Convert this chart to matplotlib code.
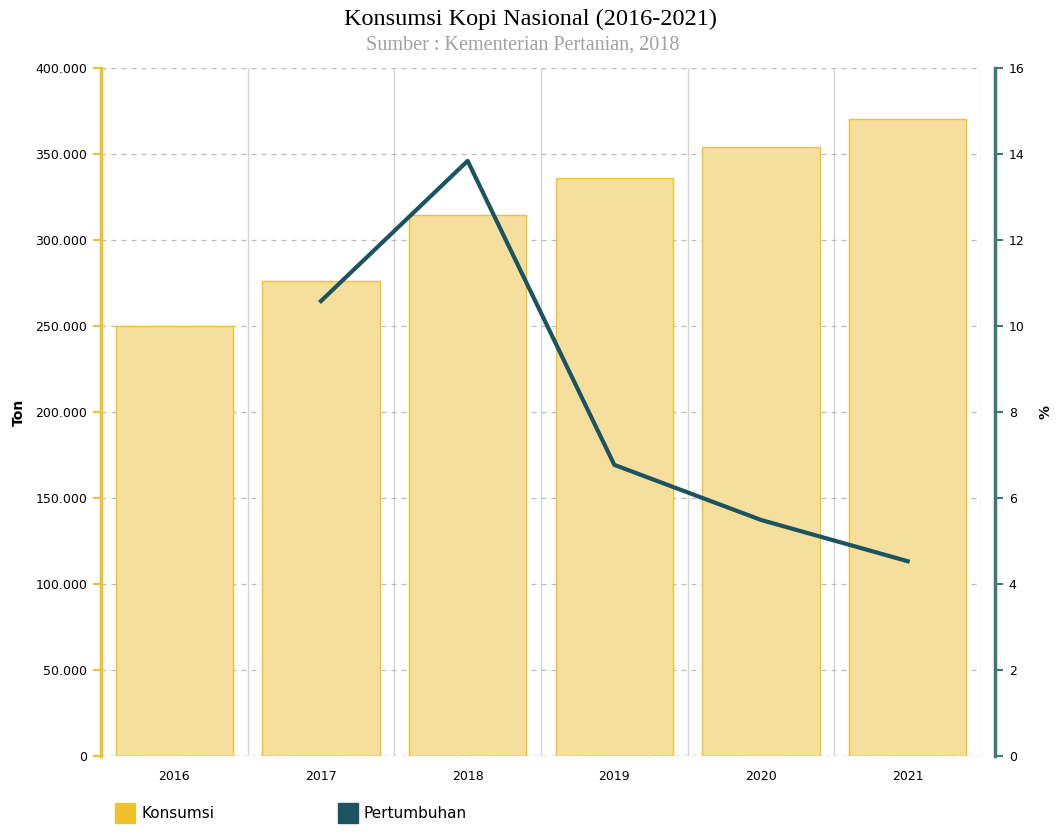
import numpy as np
import matplotlib.pyplot as plt
from matplotlib.patches import Patch
from matplotlib.ticker import FuncFormatter

# data
tahun = ['2016', '2017', '2018', '2019', '2020', '2021']
konsumsi = [250000, 276200, 314500, 336000, 354100, 370300]
pertumbuhan = [np.nan, 10.58, 13.84, 6.77, 5.49, 4.53]

warna_bar = '#F6DF9C'
warna_tepi = '#F0C12E'
warna_garis = '#1B5460'
warna_sumbu2 = '#3F7780'

fig = plt.figure(figsize=(10.56, 8.33), dpi=100)
ax = fig.add_axes([0.0956, 0.0924, 0.8334, 0.8260])
x = np.arange(len(tahun))

ax.bar(x, konsumsi, width=0.8, color=warna_bar, edgecolor=warna_tepi, linewidth=1, zorder=2)
ax.set_xlim(-0.5, len(tahun) - 0.5)
ax.set_ylim(0, 400000)
ax.set_yticks(np.arange(0, 400001, 50000))
ax.yaxis.set_major_formatter(FuncFormatter(lambda v, p: f'{int(v):,}'.replace(',', '.')))
ax.set_xticks(x)
ax.set_xticklabels(tahun)
ax.set_xticks(np.arange(-0.5, len(tahun)), minor=True)
ax.grid(axis='y', linestyle=(0, (4, 4)), color='#BBBBBB', linewidth=0.9, zorder=0)
ax.grid(axis='x', which='minor', color='#D5D5D5', linewidth=1, zorder=0)
ax.tick_params(axis='x', which='both', length=0, labelsize=9, pad=10)
ax.tick_params(axis='y', length=6, color=warna_tepi, width=1.5, labelsize=9, pad=4)

for s in ['top', 'right']:
    ax.spines[s].set_visible(False)
ax.spines['bottom'].set_visible(False)
ax.axhline(0, color='#999999', linestyle=(0, (3, 3)), linewidth=1, zorder=3)
ax.spines['left'].set_color(warna_tepi)
ax.spines['left'].set_linewidth(2.5)

ax2 = ax.twinx()
ax2.plot(x, pertumbuhan, color=warna_garis, linewidth=3, zorder=4)
ax2.set_ylim(0, 16)
ax2.set_yticks(np.arange(0, 17, 2))
for s in ['top', 'left', 'bottom']:
    ax2.spines[s].set_visible(False)
ax2.spines['right'].set_position(('outward', 10))
ax2.spines['right'].set_color(warna_sumbu2)
ax2.spines['right'].set_linewidth(2.5)
ax2.tick_params(axis='y', length=6, color=warna_sumbu2, width=1.5, labelsize=9, pad=4)

# label sumbu
fig.text(0.018, 0.505, 'Ton', rotation=90, ha='center', va='center', fontsize=10, fontweight='bold')
fig.text(0.990, 0.505, '%', rotation=90, ha='center', va='center', fontsize=10, fontweight='bold')

fig.text(0.502, 0.977, 'Konsumsi Kopi Nasional (2016-2021)', ha='center', va='center',
         fontsize=17.5, family='Liberation Serif')
fig.text(0.495, 0.946, 'Sumber : Kementerian Pertanian, 2018', ha='center', va='center',
         fontsize=14.5, family='Liberation Serif', color='#A0A0A0')

handles = [Patch(facecolor='#F0C12E', edgecolor='#F0C12E'),
           Patch(facecolor=warna_garis, edgecolor=warna_garis)]
fig.legend(handles, ['Konsumsi', 'Pertumbuhan'], loc='lower left', bbox_to_anchor=(0.096, -0.005),
           ncol=2, frameon=False, fontsize=11, handlelength=1.3, handleheight=1.7,
           columnspacing=8.1, handletextpad=0.4)

fig.savefig('out.png', dpi=100)
